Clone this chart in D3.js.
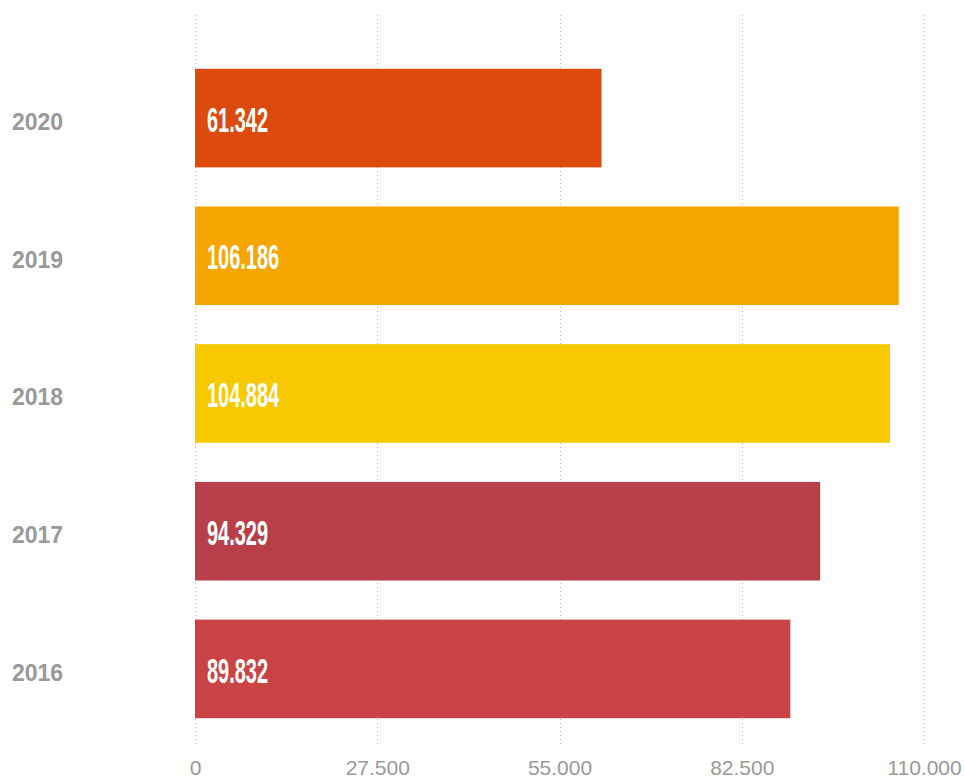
<!DOCTYPE html>
<html>
<head>
<meta charset="utf-8">
<script src="https://cdn.jsdelivr.net/npm/d3@7"></script>
<style>
  html, body { margin: 0; padding: 0; background: #fff; }
  svg { display: block; }
</style>
</head>
<body>
<svg id="chart" width="964" height="780"></svg>
<script>
// Yearly totals, most recent year on top
const years = ["2020", "2019", "2018", "2017", "2016"];
const values = [61342, 106186, 104884, 94329, 89832];
const barColors = ["#dc4a0e", "#f5a600", "#f8c900", "#b83f4a", "#ca4446"];
const tickValues = [0, 27500, 55000, 82500, 110000];

const svg = d3.select("#chart");

// German-style number formatting: 27.500
const de = d3.formatLocale({ decimal: ",", thousands: ".", grouping: [3], currency: ["", " €"] });
const fmt = de.format(",d");

const x = d3.scaleLinear().domain([0, 110000]).range([195, 924]);
const y = d3.scaleBand().domain(years).range([49.5, 737.5]).paddingInner(0.284).paddingOuter(0.14);

// Dotted vertical gridlines
svg.append("g")
  .selectAll("line")
  .data(tickValues)
  .join("line")
  .attr("x1", d => Math.round(x(d)) + 0.5)
  .attr("x2", d => Math.round(x(d)) + 0.5)
  .attr("y1", 15)
  .attr("y2", 744)
  .attr("stroke", "#bdbdbd")
  .attr("stroke-width", 1)
  .attr("stroke-dasharray", "1,3");

// Bottom axis labels
const axis = d3.axisBottom(x).tickValues(tickValues).tickFormat(fmt).tickSize(0).tickPadding(0);
const axisG = svg.append("g").attr("transform", "translate(0,775)").call(axis);
axisG.select(".domain").remove();
axisG.selectAll("text")
  .attr("dy", "0")
  .attr("fill", "#999")
  .style("font-family", "'Liberation Sans', Arial, sans-serif")
  .style("font-size", "21px");

// Bars
svg.append("g")
  .selectAll("rect")
  .data(years)
  .join("rect")
  .attr("x", x(0))
  .attr("y", d => y(d))
  .attr("width", (d, i) => x(values[i]) - x(0))
  .attr("height", y.bandwidth())
  .attr("fill", (d, i) => barColors[i]);

// Year labels on the left
svg.append("g")
  .selectAll("text")
  .data(years)
  .join("text")
  .attr("x", 12)
  .attr("y", d => y(d) + y.bandwidth() / 2)
  .attr("dy", "0.52em")
  .attr("fill", "#999")
  .style("font-family", "'Liberation Sans', Arial, sans-serif")
  .style("font-weight", "bold")
  .style("font-size", "23px")
  .text(d => d);

// Value labels inside bars, in a tall condensed style
svg.append("g")
  .selectAll("text")
  .data(years)
  .join("text")
  .attr("transform", d => `translate(207,${y(d) + y.bandwidth() / 2}) scale(0.57,1)`)
  .attr("dy", "0.39em")
  .attr("fill", "#fff")
  .style("font-family", "'Liberation Sans', Arial, sans-serif")
  .style("font-weight", "bold")
  .style("font-size", "35px")
  .text((d, i) => fmt(values[i]));
</script>
</body>
</html>
